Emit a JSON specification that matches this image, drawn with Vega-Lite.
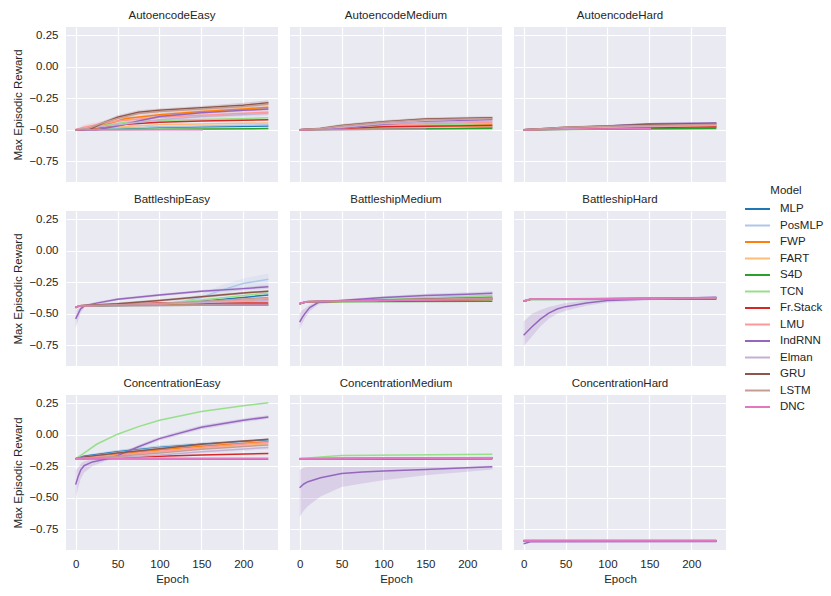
{
"$schema": "https://vega.github.io/schema/vega-lite/v6.json",
"padding": {"left": 12, "top": 9, "right": 5, "bottom": 5},
"data": {"values": [
{"p":"AE","m":"MLP","e":0,"y":-0.5},{"p":"AE","m":"MLP","e":50,"y":-0.49},{"p":"AE","m":"MLP","e":100,"y":-0.48},{"p":"AE","m":"MLP","e":230,"y":-0.47},
{"p":"AE","m":"PosMLP","e":0,"y":-0.5},{"p":"AE","m":"PosMLP","e":50,"y":-0.488},{"p":"AE","m":"PosMLP","e":100,"y":-0.475},{"p":"AE","m":"PosMLP","e":230,"y":-0.46},
{"p":"AE","m":"FWP","e":0,"y":-0.5,"lo":-0.503,"hi":-0.497},{"p":"AE","m":"FWP","e":20,"y":-0.49,"lo":-0.502,"hi":-0.478},{"p":"AE","m":"FWP","e":40,"y":-0.45,"lo":-0.462,"hi":-0.438},{"p":"AE","m":"FWP","e":60,"y":-0.41,"lo":-0.422,"hi":-0.398},{"p":"AE","m":"FWP","e":100,"y":-0.38,"lo":-0.392,"hi":-0.368},{"p":"AE","m":"FWP","e":150,"y":-0.355,"lo":-0.367,"hi":-0.343},{"p":"AE","m":"FWP","e":200,"y":-0.335,"lo":-0.347,"hi":-0.323},{"p":"AE","m":"FWP","e":230,"y":-0.32,"lo":-0.332,"hi":-0.308},
{"p":"AE","m":"FART","e":0,"y":-0.5},{"p":"AE","m":"FART","e":50,"y":-0.475},{"p":"AE","m":"FART","e":100,"y":-0.46},{"p":"AE","m":"FART","e":230,"y":-0.445},
{"p":"AE","m":"S4D","e":0,"y":-0.5},{"p":"AE","m":"S4D","e":100,"y":-0.496},{"p":"AE","m":"S4D","e":230,"y":-0.49},
{"p":"AE","m":"TCN","e":0,"y":-0.5},{"p":"AE","m":"TCN","e":30,"y":-0.47},{"p":"AE","m":"TCN","e":60,"y":-0.44},{"p":"AE","m":"TCN","e":100,"y":-0.425},{"p":"AE","m":"TCN","e":230,"y":-0.405},
{"p":"AE","m":"Fr.Stack","e":0,"y":-0.5},{"p":"AE","m":"Fr.Stack","e":30,"y":-0.48},{"p":"AE","m":"Fr.Stack","e":60,"y":-0.455},{"p":"AE","m":"Fr.Stack","e":100,"y":-0.44},{"p":"AE","m":"Fr.Stack","e":150,"y":-0.43},{"p":"AE","m":"Fr.Stack","e":230,"y":-0.42},
{"p":"AE","m":"LMU","e":0,"y":-0.5,"lo":-0.503,"hi":-0.497},{"p":"AE","m":"LMU","e":10,"y":-0.48,"lo":-0.5,"hi":-0.46},{"p":"AE","m":"LMU","e":25,"y":-0.46,"lo":-0.48,"hi":-0.44},{"p":"AE","m":"LMU","e":50,"y":-0.43,"lo":-0.45,"hi":-0.41},{"p":"AE","m":"LMU","e":100,"y":-0.4,"lo":-0.42,"hi":-0.38},{"p":"AE","m":"LMU","e":150,"y":-0.385,"lo":-0.405,"hi":-0.365},{"p":"AE","m":"LMU","e":230,"y":-0.36,"lo":-0.38,"hi":-0.34},
{"p":"AE","m":"IndRNN","e":0,"y":-0.5,"lo":-0.503,"hi":-0.497},{"p":"AE","m":"IndRNN","e":25,"y":-0.5,"lo":-0.51,"hi":-0.49},{"p":"AE","m":"IndRNN","e":50,"y":-0.47,"lo":-0.48,"hi":-0.46},{"p":"AE","m":"IndRNN","e":75,"y":-0.43,"lo":-0.44,"hi":-0.42},{"p":"AE","m":"IndRNN","e":100,"y":-0.395,"lo":-0.405,"hi":-0.385},{"p":"AE","m":"IndRNN","e":150,"y":-0.365,"lo":-0.375,"hi":-0.355},{"p":"AE","m":"IndRNN","e":200,"y":-0.345,"lo":-0.355,"hi":-0.335},{"p":"AE","m":"IndRNN","e":230,"y":-0.335,"lo":-0.345,"hi":-0.325},
{"p":"AE","m":"Elman","e":0,"y":-0.5,"lo":-0.503,"hi":-0.497},{"p":"AE","m":"Elman","e":50,"y":-0.46,"lo":-0.48,"hi":-0.44},{"p":"AE","m":"Elman","e":100,"y":-0.42,"lo":-0.44,"hi":-0.4},{"p":"AE","m":"Elman","e":150,"y":-0.395,"lo":-0.415,"hi":-0.375},{"p":"AE","m":"Elman","e":230,"y":-0.37,"lo":-0.39,"hi":-0.35},
{"p":"AE","m":"GRU","e":0,"y":-0.5,"lo":-0.503,"hi":-0.497},{"p":"AE","m":"GRU","e":10,"y":-0.5,"lo":-0.505,"hi":-0.495},{"p":"AE","m":"GRU","e":20,"y":-0.485,"lo":-0.495,"hi":-0.475},{"p":"AE","m":"GRU","e":35,"y":-0.44,"lo":-0.455,"hi":-0.425},{"p":"AE","m":"GRU","e":50,"y":-0.4,"lo":-0.415,"hi":-0.385},{"p":"AE","m":"GRU","e":75,"y":-0.36,"lo":-0.375,"hi":-0.345},{"p":"AE","m":"GRU","e":100,"y":-0.345,"lo":-0.36,"hi":-0.33},{"p":"AE","m":"GRU","e":150,"y":-0.325,"lo":-0.34,"hi":-0.31},{"p":"AE","m":"GRU","e":200,"y":-0.305,"lo":-0.325,"hi":-0.285},{"p":"AE","m":"GRU","e":230,"y":-0.285,"lo":-0.305,"hi":-0.265},
{"p":"AE","m":"LSTM","e":0,"y":-0.5,"lo":-0.503,"hi":-0.497},{"p":"AE","m":"LSTM","e":15,"y":-0.49,"lo":-0.5,"hi":-0.48},{"p":"AE","m":"LSTM","e":30,"y":-0.45,"lo":-0.465,"hi":-0.435},{"p":"AE","m":"LSTM","e":50,"y":-0.41,"lo":-0.425,"hi":-0.395},{"p":"AE","m":"LSTM","e":75,"y":-0.37,"lo":-0.385,"hi":-0.355},{"p":"AE","m":"LSTM","e":100,"y":-0.355,"lo":-0.37,"hi":-0.34},{"p":"AE","m":"LSTM","e":150,"y":-0.335,"lo":-0.35,"hi":-0.32},{"p":"AE","m":"LSTM","e":200,"y":-0.315,"lo":-0.33,"hi":-0.3},{"p":"AE","m":"LSTM","e":230,"y":-0.295,"lo":-0.31,"hi":-0.28},
{"p":"AE","m":"DNC","e":0,"y":-0.5},{"p":"AE","m":"DNC","e":152,"y":-0.5},

{"p":"AM","m":"MLP","e":0,"y":-0.5},{"p":"AM","m":"MLP","e":100,"y":-0.49},{"p":"AM","m":"MLP","e":230,"y":-0.48},
{"p":"AM","m":"PosMLP","e":0,"y":-0.5},{"p":"AM","m":"PosMLP","e":100,"y":-0.485},{"p":"AM","m":"PosMLP","e":230,"y":-0.475},
{"p":"AM","m":"FWP","e":0,"y":-0.5},{"p":"AM","m":"FWP","e":50,"y":-0.49},{"p":"AM","m":"FWP","e":100,"y":-0.47},{"p":"AM","m":"FWP","e":230,"y":-0.455},
{"p":"AM","m":"FART","e":0,"y":-0.5},{"p":"AM","m":"FART","e":100,"y":-0.485},{"p":"AM","m":"FART","e":230,"y":-0.47},
{"p":"AM","m":"S4D","e":0,"y":-0.5},{"p":"AM","m":"S4D","e":230,"y":-0.49},
{"p":"AM","m":"TCN","e":0,"y":-0.5},{"p":"AM","m":"TCN","e":50,"y":-0.485},{"p":"AM","m":"TCN","e":100,"y":-0.47},{"p":"AM","m":"TCN","e":230,"y":-0.45},
{"p":"AM","m":"Fr.Stack","e":0,"y":-0.5},{"p":"AM","m":"Fr.Stack","e":50,"y":-0.49},{"p":"AM","m":"Fr.Stack","e":100,"y":-0.475},{"p":"AM","m":"Fr.Stack","e":230,"y":-0.465},
{"p":"AM","m":"LMU","e":0,"y":-0.5},{"p":"AM","m":"LMU","e":50,"y":-0.485},{"p":"AM","m":"LMU","e":100,"y":-0.46},{"p":"AM","m":"LMU","e":230,"y":-0.44},
{"p":"AM","m":"IndRNN","e":0,"y":-0.5},{"p":"AM","m":"IndRNN","e":50,"y":-0.485},{"p":"AM","m":"IndRNN","e":100,"y":-0.455},{"p":"AM","m":"IndRNN","e":150,"y":-0.435},{"p":"AM","m":"IndRNN","e":230,"y":-0.42},
{"p":"AM","m":"Elman","e":0,"y":-0.5},{"p":"AM","m":"Elman","e":50,"y":-0.48},{"p":"AM","m":"Elman","e":100,"y":-0.45},{"p":"AM","m":"Elman","e":230,"y":-0.43},
{"p":"AM","m":"GRU","e":0,"y":-0.5,"lo":-0.503,"hi":-0.497},{"p":"AM","m":"GRU","e":25,"y":-0.49,"lo":-0.5,"hi":-0.48},{"p":"AM","m":"GRU","e":50,"y":-0.465,"lo":-0.477,"hi":-0.453},{"p":"AM","m":"GRU","e":100,"y":-0.435,"lo":-0.447,"hi":-0.423},{"p":"AM","m":"GRU","e":150,"y":-0.415,"lo":-0.427,"hi":-0.403},{"p":"AM","m":"GRU","e":230,"y":-0.405,"lo":-0.417,"hi":-0.393},
{"p":"AM","m":"LSTM","e":0,"y":-0.5,"lo":-0.503,"hi":-0.497},{"p":"AM","m":"LSTM","e":25,"y":-0.49,"lo":-0.5,"hi":-0.48},{"p":"AM","m":"LSTM","e":50,"y":-0.47,"lo":-0.482,"hi":-0.458},{"p":"AM","m":"LSTM","e":100,"y":-0.44,"lo":-0.452,"hi":-0.428},{"p":"AM","m":"LSTM","e":150,"y":-0.42,"lo":-0.432,"hi":-0.408},{"p":"AM","m":"LSTM","e":230,"y":-0.41,"lo":-0.422,"hi":-0.398},
{"p":"AM","m":"DNC","e":0,"y":-0.5},{"p":"AM","m":"DNC","e":151,"y":-0.495},

{"p":"AH","m":"MLP","e":0,"y":-0.5},{"p":"AH","m":"MLP","e":230,"y":-0.48},
{"p":"AH","m":"PosMLP","e":0,"y":-0.5},{"p":"AH","m":"PosMLP","e":100,"y":-0.485},{"p":"AH","m":"PosMLP","e":230,"y":-0.47},
{"p":"AH","m":"FWP","e":0,"y":-0.5},{"p":"AH","m":"FWP","e":100,"y":-0.48},{"p":"AH","m":"FWP","e":230,"y":-0.465},
{"p":"AH","m":"FART","e":0,"y":-0.5},{"p":"AH","m":"FART","e":230,"y":-0.475},
{"p":"AH","m":"S4D","e":0,"y":-0.5},{"p":"AH","m":"S4D","e":230,"y":-0.49},
{"p":"AH","m":"TCN","e":0,"y":-0.5},{"p":"AH","m":"TCN","e":100,"y":-0.48},{"p":"AH","m":"TCN","e":230,"y":-0.47},
{"p":"AH","m":"Fr.Stack","e":0,"y":-0.5},{"p":"AH","m":"Fr.Stack","e":100,"y":-0.485},{"p":"AH","m":"Fr.Stack","e":230,"y":-0.475},
{"p":"AH","m":"LMU","e":0,"y":-0.5},{"p":"AH","m":"LMU","e":100,"y":-0.48},{"p":"AH","m":"LMU","e":230,"y":-0.465},
{"p":"AH","m":"IndRNN","e":0,"y":-0.5,"lo":-0.503,"hi":-0.497},{"p":"AH","m":"IndRNN","e":50,"y":-0.485,"lo":-0.493,"hi":-0.477},{"p":"AH","m":"IndRNN","e":100,"y":-0.47,"lo":-0.478,"hi":-0.462},{"p":"AH","m":"IndRNN","e":150,"y":-0.452,"lo":-0.46,"hi":-0.444},{"p":"AH","m":"IndRNN","e":230,"y":-0.445,"lo":-0.453,"hi":-0.437},
{"p":"AH","m":"Elman","e":0,"y":-0.5},{"p":"AH","m":"Elman","e":100,"y":-0.475},{"p":"AH","m":"Elman","e":230,"y":-0.46},
{"p":"AH","m":"GRU","e":0,"y":-0.5,"lo":-0.503,"hi":-0.497},{"p":"AH","m":"GRU","e":50,"y":-0.48,"lo":-0.488,"hi":-0.472},{"p":"AH","m":"GRU","e":100,"y":-0.47,"lo":-0.478,"hi":-0.462},{"p":"AH","m":"GRU","e":150,"y":-0.458,"lo":-0.466,"hi":-0.45},{"p":"AH","m":"GRU","e":230,"y":-0.45,"lo":-0.458,"hi":-0.442},
{"p":"AH","m":"LSTM","e":0,"y":-0.5},{"p":"AH","m":"LSTM","e":50,"y":-0.48},{"p":"AH","m":"LSTM","e":100,"y":-0.472},{"p":"AH","m":"LSTM","e":230,"y":-0.455},
{"p":"AH","m":"DNC","e":0,"y":-0.5},{"p":"AH","m":"DNC","e":152,"y":-0.49},

{"p":"BE","m":"MLP","e":0,"y":-0.45},{"p":"BE","m":"MLP","e":5,"y":-0.435},{"p":"BE","m":"MLP","e":100,"y":-0.43},{"p":"BE","m":"MLP","e":150,"y":-0.4},{"p":"BE","m":"MLP","e":200,"y":-0.37},{"p":"BE","m":"MLP","e":230,"y":-0.35},
{"p":"BE","m":"PosMLP","e":0,"y":-0.45,"lo":-0.46,"hi":-0.44},{"p":"BE","m":"PosMLP","e":5,"y":-0.435,"lo":-0.44,"hi":-0.43},{"p":"BE","m":"PosMLP","e":100,"y":-0.425,"lo":-0.435,"hi":-0.415},{"p":"BE","m":"PosMLP","e":130,"y":-0.4,"lo":-0.42,"hi":-0.38},{"p":"BE","m":"PosMLP","e":150,"y":-0.37,"lo":-0.4,"hi":-0.34},{"p":"BE","m":"PosMLP","e":175,"y":-0.31,"lo":-0.35,"hi":-0.27},{"p":"BE","m":"PosMLP","e":200,"y":-0.26,"lo":-0.3,"hi":-0.22},{"p":"BE","m":"PosMLP","e":230,"y":-0.225,"lo":-0.27,"hi":-0.18},
{"p":"BE","m":"FWP","e":0,"y":-0.45},{"p":"BE","m":"FWP","e":5,"y":-0.435},{"p":"BE","m":"FWP","e":150,"y":-0.42},{"p":"BE","m":"FWP","e":200,"y":-0.4},{"p":"BE","m":"FWP","e":230,"y":-0.387},
{"p":"BE","m":"FART","e":0,"y":-0.45},{"p":"BE","m":"FART","e":5,"y":-0.435},{"p":"BE","m":"FART","e":230,"y":-0.4},
{"p":"BE","m":"S4D","e":0,"y":-0.45},{"p":"BE","m":"S4D","e":5,"y":-0.435},{"p":"BE","m":"S4D","e":230,"y":-0.43},
{"p":"BE","m":"TCN","e":0,"y":-0.45},{"p":"BE","m":"TCN","e":5,"y":-0.435},{"p":"BE","m":"TCN","e":100,"y":-0.42},{"p":"BE","m":"TCN","e":150,"y":-0.39},{"p":"BE","m":"TCN","e":200,"y":-0.355},{"p":"BE","m":"TCN","e":230,"y":-0.335},
{"p":"BE","m":"Fr.Stack","e":0,"y":-0.45},{"p":"BE","m":"Fr.Stack","e":5,"y":-0.435},{"p":"BE","m":"Fr.Stack","e":100,"y":-0.415},{"p":"BE","m":"Fr.Stack","e":230,"y":-0.415},
{"p":"BE","m":"LMU","e":0,"y":-0.45},{"p":"BE","m":"LMU","e":5,"y":-0.435},{"p":"BE","m":"LMU","e":150,"y":-0.41},{"p":"BE","m":"LMU","e":230,"y":-0.38},
{"p":"BE","m":"IndRNN","e":0,"y":-0.54,"lo":-0.61,"hi":-0.47},{"p":"BE","m":"IndRNN","e":3,"y":-0.5,"lo":-0.55,"hi":-0.46},{"p":"BE","m":"IndRNN","e":6,"y":-0.46,"lo":-0.49,"hi":-0.44},{"p":"BE","m":"IndRNN","e":11,"y":-0.435,"lo":-0.445,"hi":-0.425},{"p":"BE","m":"IndRNN","e":25,"y":-0.415,"lo":-0.425,"hi":-0.405},{"p":"BE","m":"IndRNN","e":50,"y":-0.385,"lo":-0.395,"hi":-0.375},{"p":"BE","m":"IndRNN","e":100,"y":-0.35,"lo":-0.36,"hi":-0.34},{"p":"BE","m":"IndRNN","e":150,"y":-0.32,"lo":-0.33,"hi":-0.31},{"p":"BE","m":"IndRNN","e":200,"y":-0.3,"lo":-0.315,"hi":-0.29},{"p":"BE","m":"IndRNN","e":230,"y":-0.285,"lo":-0.3,"hi":-0.27},
{"p":"BE","m":"Elman","e":0,"y":-0.45},{"p":"BE","m":"Elman","e":5,"y":-0.435},{"p":"BE","m":"Elman","e":230,"y":-0.395},
{"p":"BE","m":"GRU","e":0,"y":-0.45,"lo":-0.455,"hi":-0.445},{"p":"BE","m":"GRU","e":5,"y":-0.435,"lo":-0.44,"hi":-0.43},{"p":"BE","m":"GRU","e":50,"y":-0.42,"lo":-0.43,"hi":-0.41},{"p":"BE","m":"GRU","e":100,"y":-0.395,"lo":-0.405,"hi":-0.385},{"p":"BE","m":"GRU","e":150,"y":-0.365,"lo":-0.375,"hi":-0.355},{"p":"BE","m":"GRU","e":200,"y":-0.335,"lo":-0.345,"hi":-0.325},{"p":"BE","m":"GRU","e":230,"y":-0.32,"lo":-0.33,"hi":-0.31},
{"p":"BE","m":"LSTM","e":0,"y":-0.45},{"p":"BE","m":"LSTM","e":5,"y":-0.435},{"p":"BE","m":"LSTM","e":100,"y":-0.42},{"p":"BE","m":"LSTM","e":230,"y":-0.37},
{"p":"BE","m":"DNC","e":0,"y":-0.45},{"p":"BE","m":"DNC","e":5,"y":-0.435},{"p":"BE","m":"DNC","e":230,"y":-0.43},

{"p":"BM","m":"MLP","e":0,"y":-0.42},{"p":"BM","m":"MLP","e":8,"y":-0.405},{"p":"BM","m":"MLP","e":230,"y":-0.38},
{"p":"BM","m":"PosMLP","e":0,"y":-0.42},{"p":"BM","m":"PosMLP","e":8,"y":-0.405},{"p":"BM","m":"PosMLP","e":230,"y":-0.355},
{"p":"BM","m":"FWP","e":0,"y":-0.42},{"p":"BM","m":"FWP","e":8,"y":-0.405},{"p":"BM","m":"FWP","e":230,"y":-0.385},
{"p":"BM","m":"FART","e":0,"y":-0.42},{"p":"BM","m":"FART","e":8,"y":-0.405},{"p":"BM","m":"FART","e":230,"y":-0.39},
{"p":"BM","m":"S4D","e":0,"y":-0.42},{"p":"BM","m":"S4D","e":8,"y":-0.405},{"p":"BM","m":"S4D","e":230,"y":-0.4},
{"p":"BM","m":"TCN","e":0,"y":-0.42},{"p":"BM","m":"TCN","e":8,"y":-0.405},{"p":"BM","m":"TCN","e":230,"y":-0.36},
{"p":"BM","m":"Fr.Stack","e":0,"y":-0.42},{"p":"BM","m":"Fr.Stack","e":8,"y":-0.405},{"p":"BM","m":"Fr.Stack","e":230,"y":-0.385},
{"p":"BM","m":"LMU","e":0,"y":-0.42},{"p":"BM","m":"LMU","e":8,"y":-0.405},{"p":"BM","m":"LMU","e":230,"y":-0.38},
{"p":"BM","m":"IndRNN","e":0,"y":-0.565,"lo":-0.63,"hi":-0.5},{"p":"BM","m":"IndRNN","e":3,"y":-0.53,"lo":-0.58,"hi":-0.47},{"p":"BM","m":"IndRNN","e":6,"y":-0.5,"lo":-0.54,"hi":-0.46},{"p":"BM","m":"IndRNN","e":12,"y":-0.45,"lo":-0.48,"hi":-0.43},{"p":"BM","m":"IndRNN","e":22,"y":-0.41,"lo":-0.425,"hi":-0.4},{"p":"BM","m":"IndRNN","e":50,"y":-0.395,"lo":-0.405,"hi":-0.385},{"p":"BM","m":"IndRNN","e":100,"y":-0.37,"lo":-0.38,"hi":-0.36},{"p":"BM","m":"IndRNN","e":150,"y":-0.355,"lo":-0.37,"hi":-0.34},{"p":"BM","m":"IndRNN","e":200,"y":-0.345,"lo":-0.36,"hi":-0.33},{"p":"BM","m":"IndRNN","e":230,"y":-0.337,"lo":-0.355,"hi":-0.32},
{"p":"BM","m":"Elman","e":0,"y":-0.42},{"p":"BM","m":"Elman","e":8,"y":-0.405},{"p":"BM","m":"Elman","e":230,"y":-0.375},
{"p":"BM","m":"GRU","e":0,"y":-0.42},{"p":"BM","m":"GRU","e":8,"y":-0.405},{"p":"BM","m":"GRU","e":230,"y":-0.37},
{"p":"BM","m":"LSTM","e":0,"y":-0.42},{"p":"BM","m":"LSTM","e":8,"y":-0.405},{"p":"BM","m":"LSTM","e":230,"y":-0.375},
{"p":"BM","m":"DNC","e":0,"y":-0.415},{"p":"BM","m":"DNC","e":8,"y":-0.403},{"p":"BM","m":"DNC","e":230,"y":-0.385},

{"p":"BH","m":"MLP","e":0,"y":-0.4},{"p":"BH","m":"MLP","e":8,"y":-0.385},{"p":"BH","m":"MLP","e":230,"y":-0.377},
{"p":"BH","m":"PosMLP","e":0,"y":-0.4},{"p":"BH","m":"PosMLP","e":8,"y":-0.385},{"p":"BH","m":"PosMLP","e":230,"y":-0.375},
{"p":"BH","m":"FWP","e":0,"y":-0.4},{"p":"BH","m":"FWP","e":8,"y":-0.385},{"p":"BH","m":"FWP","e":230,"y":-0.378},
{"p":"BH","m":"FART","e":0,"y":-0.4},{"p":"BH","m":"FART","e":8,"y":-0.385},{"p":"BH","m":"FART","e":230,"y":-0.378},
{"p":"BH","m":"S4D","e":0,"y":-0.4},{"p":"BH","m":"S4D","e":8,"y":-0.386},{"p":"BH","m":"S4D","e":230,"y":-0.383},
{"p":"BH","m":"TCN","e":0,"y":-0.4},{"p":"BH","m":"TCN","e":8,"y":-0.385},{"p":"BH","m":"TCN","e":230,"y":-0.376},
{"p":"BH","m":"Fr.Stack","e":0,"y":-0.4},{"p":"BH","m":"Fr.Stack","e":8,"y":-0.385},{"p":"BH","m":"Fr.Stack","e":230,"y":-0.378},
{"p":"BH","m":"LMU","e":0,"y":-0.4},{"p":"BH","m":"LMU","e":8,"y":-0.385},{"p":"BH","m":"LMU","e":230,"y":-0.375},
{"p":"BH","m":"IndRNN","e":0,"y":-0.67,"lo":-0.755,"hi":-0.56},{"p":"BH","m":"IndRNN","e":10,"y":-0.603,"lo":-0.68,"hi":-0.5},{"p":"BH","m":"IndRNN","e":20,"y":-0.542,"lo":-0.6,"hi":-0.47},{"p":"BH","m":"IndRNN","e":30,"y":-0.494,"lo":-0.54,"hi":-0.445},{"p":"BH","m":"IndRNN","e":40,"y":-0.462,"lo":-0.5,"hi":-0.43},{"p":"BH","m":"IndRNN","e":50,"y":-0.443,"lo":-0.475,"hi":-0.415},{"p":"BH","m":"IndRNN","e":75,"y":-0.414,"lo":-0.435,"hi":-0.395},{"p":"BH","m":"IndRNN","e":100,"y":-0.395,"lo":-0.41,"hi":-0.382},{"p":"BH","m":"IndRNN","e":150,"y":-0.382,"lo":-0.392,"hi":-0.372},{"p":"BH","m":"IndRNN","e":230,"y":-0.369,"lo":-0.378,"hi":-0.36},
{"p":"BH","m":"Elman","e":0,"y":-0.4},{"p":"BH","m":"Elman","e":8,"y":-0.385},{"p":"BH","m":"Elman","e":230,"y":-0.376},
{"p":"BH","m":"GRU","e":0,"y":-0.4},{"p":"BH","m":"GRU","e":8,"y":-0.384},{"p":"BH","m":"GRU","e":230,"y":-0.372},
{"p":"BH","m":"LSTM","e":0,"y":-0.4},{"p":"BH","m":"LSTM","e":8,"y":-0.385},{"p":"BH","m":"LSTM","e":230,"y":-0.374},
{"p":"BH","m":"DNC","e":0,"y":-0.397},{"p":"BH","m":"DNC","e":8,"y":-0.383},{"p":"BH","m":"DNC","e":230,"y":-0.373},

{"p":"CE","m":"MLP","e":0,"y":-0.19,"lo":-0.195,"hi":-0.185},{"p":"CE","m":"MLP","e":10,"y":-0.17,"lo":-0.18,"hi":-0.16},{"p":"CE","m":"MLP","e":50,"y":-0.135,"lo":-0.15,"hi":-0.12},{"p":"CE","m":"MLP","e":100,"y":-0.1,"lo":-0.115,"hi":-0.085},{"p":"CE","m":"MLP","e":150,"y":-0.075,"lo":-0.09,"hi":-0.06},{"p":"CE","m":"MLP","e":230,"y":-0.045,"lo":-0.06,"hi":-0.03},
{"p":"CE","m":"PosMLP","e":0,"y":-0.19,"lo":-0.195,"hi":-0.185},{"p":"CE","m":"PosMLP","e":10,"y":-0.175,"lo":-0.185,"hi":-0.165},{"p":"CE","m":"PosMLP","e":50,"y":-0.14,"lo":-0.155,"hi":-0.125},{"p":"CE","m":"PosMLP","e":100,"y":-0.105,"lo":-0.12,"hi":-0.09},{"p":"CE","m":"PosMLP","e":150,"y":-0.08,"lo":-0.095,"hi":-0.065},{"p":"CE","m":"PosMLP","e":230,"y":-0.05,"lo":-0.065,"hi":-0.035},
{"p":"CE","m":"FWP","e":0,"y":-0.19},{"p":"CE","m":"FWP","e":50,"y":-0.155},{"p":"CE","m":"FWP","e":100,"y":-0.12},{"p":"CE","m":"FWP","e":150,"y":-0.09},{"p":"CE","m":"FWP","e":230,"y":-0.055},
{"p":"CE","m":"FART","e":0,"y":-0.19},{"p":"CE","m":"FART","e":50,"y":-0.165},{"p":"CE","m":"FART","e":100,"y":-0.135},{"p":"CE","m":"FART","e":230,"y":-0.07},
{"p":"CE","m":"S4D","e":0,"y":-0.19},{"p":"CE","m":"S4D","e":230,"y":-0.192},
{"p":"CE","m":"TCN","e":0,"y":-0.19},{"p":"CE","m":"TCN","e":10,"y":-0.145},{"p":"CE","m":"TCN","e":25,"y":-0.075},{"p":"CE","m":"TCN","e":50,"y":0.005},{"p":"CE","m":"TCN","e":75,"y":0.065},{"p":"CE","m":"TCN","e":100,"y":0.115},{"p":"CE","m":"TCN","e":150,"y":0.185},{"p":"CE","m":"TCN","e":200,"y":0.23},{"p":"CE","m":"TCN","e":230,"y":0.255},
{"p":"CE","m":"Fr.Stack","e":0,"y":-0.19},{"p":"CE","m":"Fr.Stack","e":50,"y":-0.18},{"p":"CE","m":"Fr.Stack","e":100,"y":-0.17},{"p":"CE","m":"Fr.Stack","e":150,"y":-0.16},{"p":"CE","m":"Fr.Stack","e":230,"y":-0.148},
{"p":"CE","m":"LMU","e":0,"y":-0.19},{"p":"CE","m":"LMU","e":50,"y":-0.16},{"p":"CE","m":"LMU","e":100,"y":-0.13},{"p":"CE","m":"LMU","e":150,"y":-0.1},{"p":"CE","m":"LMU","e":230,"y":-0.06},
{"p":"CE","m":"IndRNN","e":0,"y":-0.395,"lo":-0.52,"hi":-0.28},{"p":"CE","m":"IndRNN","e":3,"y":-0.33,"lo":-0.42,"hi":-0.26},{"p":"CE","m":"IndRNN","e":6,"y":-0.28,"lo":-0.35,"hi":-0.23},{"p":"CE","m":"IndRNN","e":10,"y":-0.245,"lo":-0.3,"hi":-0.21},{"p":"CE","m":"IndRNN","e":20,"y":-0.215,"lo":-0.25,"hi":-0.195},{"p":"CE","m":"IndRNN","e":35,"y":-0.195,"lo":-0.21,"hi":-0.185},{"p":"CE","m":"IndRNN","e":50,"y":-0.165,"lo":-0.18,"hi":-0.15},{"p":"CE","m":"IndRNN","e":75,"y":-0.095,"lo":-0.11,"hi":-0.08},{"p":"CE","m":"IndRNN","e":100,"y":-0.03,"lo":-0.045,"hi":-0.015},{"p":"CE","m":"IndRNN","e":150,"y":0.06,"lo":0.045,"hi":0.075},{"p":"CE","m":"IndRNN","e":200,"y":0.115,"lo":0.1,"hi":0.13},{"p":"CE","m":"IndRNN","e":230,"y":0.142,"lo":0.128,"hi":0.156},
{"p":"CE","m":"Elman","e":0,"y":-0.19,"lo":-0.195,"hi":-0.185},{"p":"CE","m":"Elman","e":50,"y":-0.18,"lo":-0.195,"hi":-0.165},{"p":"CE","m":"Elman","e":100,"y":-0.16,"lo":-0.175,"hi":-0.145},{"p":"CE","m":"Elman","e":150,"y":-0.135,"lo":-0.15,"hi":-0.12},{"p":"CE","m":"Elman","e":230,"y":-0.1,"lo":-0.115,"hi":-0.085},
{"p":"CE","m":"GRU","e":0,"y":-0.19},{"p":"CE","m":"GRU","e":10,"y":-0.175},{"p":"CE","m":"GRU","e":50,"y":-0.145},{"p":"CE","m":"GRU","e":100,"y":-0.11},{"p":"CE","m":"GRU","e":150,"y":-0.075},{"p":"CE","m":"GRU","e":200,"y":-0.05},{"p":"CE","m":"GRU","e":230,"y":-0.035},
{"p":"CE","m":"LSTM","e":0,"y":-0.19},{"p":"CE","m":"LSTM","e":50,"y":-0.17},{"p":"CE","m":"LSTM","e":100,"y":-0.145},{"p":"CE","m":"LSTM","e":150,"y":-0.115},{"p":"CE","m":"LSTM","e":230,"y":-0.08},
{"p":"CE","m":"DNC","e":0,"y":-0.185},{"p":"CE","m":"DNC","e":230,"y":-0.185},

{"p":"CM","m":"MLP","e":0,"y":-0.19},{"p":"CM","m":"MLP","e":230,"y":-0.185},
{"p":"CM","m":"PosMLP","e":0,"y":-0.19},{"p":"CM","m":"PosMLP","e":230,"y":-0.18},
{"p":"CM","m":"FWP","e":0,"y":-0.19},{"p":"CM","m":"FWP","e":230,"y":-0.185},
{"p":"CM","m":"FART","e":0,"y":-0.19},{"p":"CM","m":"FART","e":230,"y":-0.183},
{"p":"CM","m":"S4D","e":0,"y":-0.19},{"p":"CM","m":"S4D","e":230,"y":-0.19},
{"p":"CM","m":"TCN","e":0,"y":-0.19},{"p":"CM","m":"TCN","e":25,"y":-0.175},{"p":"CM","m":"TCN","e":50,"y":-0.165},{"p":"CM","m":"TCN","e":230,"y":-0.155},
{"p":"CM","m":"Fr.Stack","e":0,"y":-0.19},{"p":"CM","m":"Fr.Stack","e":230,"y":-0.188},
{"p":"CM","m":"LMU","e":0,"y":-0.19},{"p":"CM","m":"LMU","e":230,"y":-0.184},
{"p":"CM","m":"IndRNN","e":0,"y":-0.42,"lo":-0.652,"hi":-0.28},{"p":"CM","m":"IndRNN","e":5,"y":-0.39,"lo":-0.6,"hi":-0.26},{"p":"CM","m":"IndRNN","e":10,"y":-0.372,"lo":-0.565,"hi":-0.255},{"p":"CM","m":"IndRNN","e":25,"y":-0.34,"lo":-0.49,"hi":-0.255},{"p":"CM","m":"IndRNN","e":50,"y":-0.307,"lo":-0.415,"hi":-0.255},{"p":"CM","m":"IndRNN","e":75,"y":-0.295,"lo":-0.387,"hi":-0.255},{"p":"CM","m":"IndRNN","e":100,"y":-0.287,"lo":-0.36,"hi":-0.255},{"p":"CM","m":"IndRNN","e":150,"y":-0.275,"lo":-0.32,"hi":-0.252},{"p":"CM","m":"IndRNN","e":200,"y":-0.262,"lo":-0.293,"hi":-0.25},{"p":"CM","m":"IndRNN","e":230,"y":-0.254,"lo":-0.275,"hi":-0.245},
{"p":"CM","m":"Elman","e":0,"y":-0.19},{"p":"CM","m":"Elman","e":230,"y":-0.182},
{"p":"CM","m":"GRU","e":0,"y":-0.19},{"p":"CM","m":"GRU","e":230,"y":-0.183},
{"p":"CM","m":"LSTM","e":0,"y":-0.19},{"p":"CM","m":"LSTM","e":230,"y":-0.181},
{"p":"CM","m":"DNC","e":0,"y":-0.187,"lo":-0.195,"hi":-0.179},{"p":"CM","m":"DNC","e":230,"y":-0.186,"lo":-0.194,"hi":-0.178},

{"p":"CH","m":"MLP","e":0,"y":-0.842},{"p":"CH","m":"MLP","e":230,"y":-0.842},
{"p":"CH","m":"PosMLP","e":0,"y":-0.842},{"p":"CH","m":"PosMLP","e":230,"y":-0.841},
{"p":"CH","m":"FWP","e":0,"y":-0.842},{"p":"CH","m":"FWP","e":230,"y":-0.842},
{"p":"CH","m":"FART","e":0,"y":-0.842},{"p":"CH","m":"FART","e":230,"y":-0.842},
{"p":"CH","m":"S4D","e":0,"y":-0.843},{"p":"CH","m":"S4D","e":230,"y":-0.843},
{"p":"CH","m":"TCN","e":0,"y":-0.842},{"p":"CH","m":"TCN","e":230,"y":-0.841},
{"p":"CH","m":"Fr.Stack","e":0,"y":-0.842},{"p":"CH","m":"Fr.Stack","e":230,"y":-0.842},
{"p":"CH","m":"LMU","e":0,"y":-0.842},{"p":"CH","m":"LMU","e":230,"y":-0.841},
{"p":"CH","m":"IndRNN","e":0,"y":-0.865},{"p":"CH","m":"IndRNN","e":8,"y":-0.848},{"p":"CH","m":"IndRNN","e":230,"y":-0.846},
{"p":"CH","m":"Elman","e":0,"y":-0.842},{"p":"CH","m":"Elman","e":230,"y":-0.842},
{"p":"CH","m":"GRU","e":0,"y":-0.842},{"p":"CH","m":"GRU","e":230,"y":-0.841},
{"p":"CH","m":"LSTM","e":0,"y":-0.842},{"p":"CH","m":"LSTM","e":230,"y":-0.841},
{"p":"CH","m":"DNC","e":0,"y":-0.837,"lo":-0.845,"hi":-0.829},{"p":"CH","m":"DNC","e":230,"y":-0.837,"lo":-0.845,"hi":-0.829}
]},
"facet": {"field": "p", "type": "nominal", "sort": ["AE","AM","AH","BE","BM","BH","CE","CM","CH"], "title": null,
  "header": {"labelExpr": "{'AE':'AutoencodeEasy','AM':'AutoencodeMedium','AH':'AutoencodeHard','BE':'BattleshipEasy','BM':'BattleshipMedium','BH':'BattleshipHard','CE':'ConcentrationEasy','CM':'ConcentrationMedium','CH':'ConcentrationHard'}[datum.value]"}},
"columns": 3,
"spacing": {"row": 11, "column": 12},
"spec": {
  "width": 212, "height": 155,
  "layer": [
    {"mark": {"type": "area", "opacity": 0.2},
     "encoding": {
       "x": {"field": "e", "type": "quantitative", "scale": {"domain": [-11.5, 241.5], "nice": false, "zero": false}, "axis": {"values": [0,50,100,150,200], "title": "Epoch"}},
       "y": {"field": "lo", "type": "quantitative", "scale": {"domain": [-0.914, 0.316], "nice": false, "zero": false}, "axis": {"values": [-0.75,-0.5,-0.25,0,0.25], "format": ".2f", "title": "Max Episodic Reward"}},
       "y2": {"field": "hi"},
       "color": {"field": "m", "type": "nominal", "title": "Model", "scale": {"domain": ["MLP","PosMLP","FWP","FART","S4D","TCN","Fr.Stack","LMU","IndRNN","Elman","GRU","LSTM","DNC"], "range": ["#1f77b4","#aec7e8","#ff7f0e","#ffbb78","#2ca02c","#98df8a","#d62728","#ff9896","#9467bd","#c5b0d5","#8c564b","#c49c94","#e377c2"]}}
     }},
    {"mark": {"type": "line", "strokeWidth": 1.5},
     "encoding": {
       "x": {"field": "e", "type": "quantitative", "scale": {"domain": [-11.5, 241.5], "nice": false, "zero": false}, "axis": {"values": [0,50,100,150,200], "title": "Epoch"}},
       "y": {"field": "y", "type": "quantitative", "scale": {"domain": [-0.914, 0.316], "nice": false, "zero": false}, "axis": {"values": [-0.75,-0.5,-0.25,0,0.25], "format": ".2f", "title": "Max Episodic Reward"}},
       "color": {"field": "m", "type": "nominal", "title": "Model", "scale": {"domain": ["MLP","PosMLP","FWP","FART","S4D","TCN","Fr.Stack","LMU","IndRNN","Elman","GRU","LSTM","DNC"], "range": ["#1f77b4","#aec7e8","#ff7f0e","#ffbb78","#2ca02c","#98df8a","#d62728","#ff9896","#9467bd","#c5b0d5","#8c564b","#c49c94","#e377c2"]}}
     }}
  ]
},
"config": {
  "font": "Liberation Sans",
  "view": {"fill": "#EAEAF2", "stroke": null},
  "axis": {"grid": true, "gridColor": "#ffffff", "gridWidth": 1.2, "gridOpacity": 1, "domain": false, "ticks": false, "labelFontSize": 11.5, "titleFontSize": 11.5, "titleFontWeight": "normal", "labelColor": "#262626", "titleColor": "#262626"},
  "axisX": {"labelPadding": 8, "titlePadding": 4},
  "axisY": {"labelPadding": 8, "titlePadding": 5},
  "header": {"labelFontSize": 11.5, "labelColor": "#262626", "labelPadding": 6},
  "legend": {"orient": "none", "legendX": 683, "legendY": 158, "symbolType": "M-1.77,0H1.77", "symbolSize": 200, "symbolStrokeWidth": 2, "labelOffset": 14, "rowPadding": 2.5, "titleAnchor": "middle", "titlePadding": 4,
    "labelFontSize": 11.5, "titleFontSize": 11.5, "titleFontWeight": "normal", "labelColor": "#262626", "titleColor": "#262626", "symbolOpacity": 1}
}
}
